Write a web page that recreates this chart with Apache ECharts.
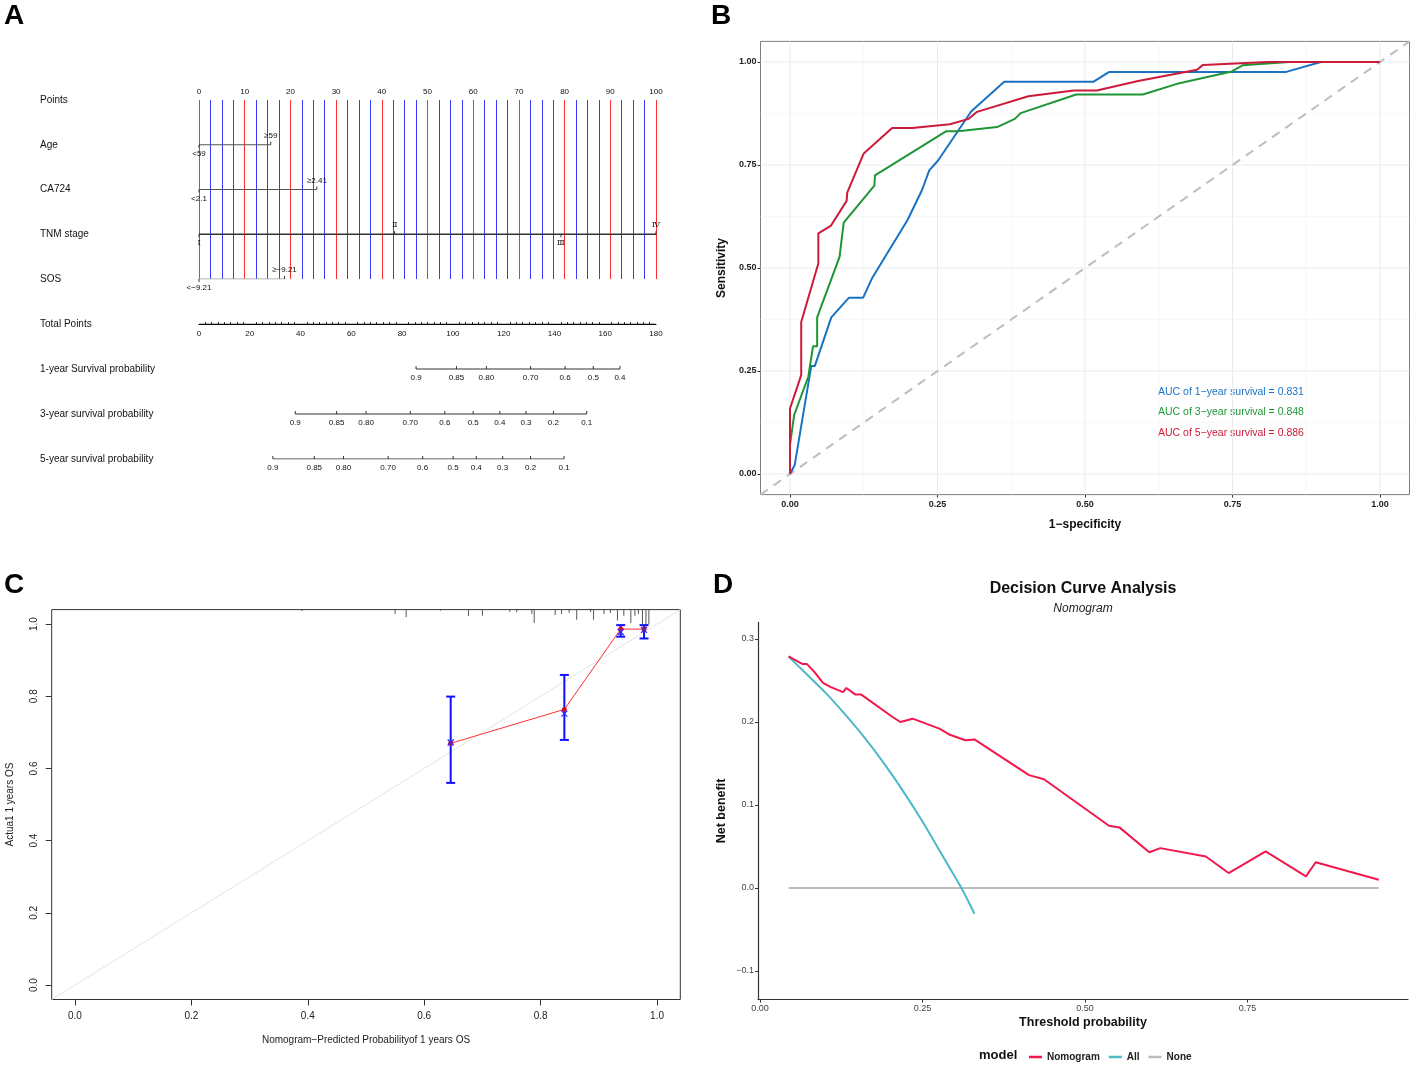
<!DOCTYPE html>
<html>
<head>
<meta charset="utf-8">
<script src="https://cdn.jsdelivr.net/npm/echarts@6/dist/echarts.min.js"></script>
<style>
  html, body { margin: 0; padding: 0; background: #fff; }
  #chart { width: 1417px; height: 1068px; }
</style>
</head>
<body>
<div id="chart"></div>
<script>
// ---- A: nomogram ----
const nomoRows = ['Points', 'Age', 'CA724', 'TNM stage', 'SOS'];
const probRows = ['Total Points', '1-year Survival probability', '3-year survival probability', '5-year survival probability'];
const ageAt = [0, 15.7];
const ageText = ['<59', '≥59'];
const ca724At = [0, 25.8];
const ca724Text = ['<2.1', '≥2.41'];
const tnmAt = [0, 42.8, 79.2, 100];
const tnmText = ['Ⅰ', 'Ⅱ', 'Ⅲ', 'Ⅳ'];
const sosAt = [0, 18.7];
const sosText = ['<−9.21', '≥−9.21'];
const totalRange = [0, 180];
// positions on the Total Points scale
const surv1At = [85.5, 101.4, 113.2, 130.6, 144.2, 155.3, 165.8];
const surv1Text = ['0.9', '0.85', '0.80', '0.70', '0.6', '0.5', '0.4'];
const surv3At = [37.9, 54.2, 65.8, 83.2, 96.8, 108.0, 118.5, 128.8, 139.6, 152.7];
const surv3Text = ['0.9', '0.85', '0.80', '0.70', '0.6', '0.5', '0.4', '0.3', '0.2', '0.1'];
const surv5At = [29.1, 45.4, 56.9, 74.5, 88.1, 100.1, 109.2, 119.6, 130.6, 143.8];
const surv5Text = ['0.9', '0.85', '0.80', '0.70', '0.6', '0.5', '0.4', '0.3', '0.2', '0.1'];

// ---- B: ROC ----
const rocTicks = [0, 0.25, 0.5, 0.75, 1];
const rocMinor = [0.125, 0.375, 0.625, 0.875];
const roc1 = [[0, 0], [0.008, 0.022], [0.036, 0.262], [0.042, 0.262], [0.07, 0.38], [0.10, 0.428], [0.124, 0.428],
  [0.139, 0.475], [0.199, 0.616], [0.224, 0.690], [0.236, 0.737], [0.251, 0.761], [0.307, 0.880], [0.363, 0.952],
  [0.514, 0.952], [0.541, 0.976], [0.841, 0.976], [0.90, 1.0], [1, 1]];
const roc3 = [[0, 0], [0, 0.07], [0.007, 0.143], [0.031, 0.236], [0.039, 0.31], [0.046, 0.31], [0.046, 0.38],
  [0.084, 0.527], [0.091, 0.61], [0.143, 0.70], [0.144, 0.725], [0.265, 0.832], [0.285, 0.832], [0.351, 0.842],
  [0.381, 0.862], [0.391, 0.876], [0.485, 0.921], [0.598, 0.921], [0.656, 0.947], [0.749, 0.977], [0.767, 0.992],
  [0.846, 1.0], [1, 1]];
const roc5 = [[0, 0], [0, 0.159], [0.019, 0.240], [0.019, 0.369], [0.048, 0.511], [0.048, 0.584], [0.069, 0.602],
  [0.096, 0.663], [0.097, 0.683], [0.125, 0.778], [0.173, 0.84], [0.207, 0.84], [0.271, 0.849], [0.303, 0.862],
  [0.317, 0.879], [0.404, 0.917], [0.481, 0.931], [0.52, 0.931], [0.59, 0.954], [0.69, 0.981], [0.70, 0.993],
  [0.81, 1.0], [1, 1]];
const aucText = ['AUC of 1−year survival = 0.831', 'AUC of 3−year survival = 0.848', 'AUC of 5−year survival = 0.886'];

// ---- C: calibration ----
const calTicks = [0, 0.2, 0.4, 0.6, 0.8, 1.0];
const calPred = [0.6455, 0.8408, 0.9376, 0.9777];
const calObs = [0.6695, 0.7636, 0.986, 0.986];
const calKm = [0.672, 0.752, 0.978, 0.984];
const calLow = [0.560, 0.679, 0.965, 0.960];
const calHigh = [0.799, 0.859, 0.997, 0.997];
const rugAt = [0.39, 0.55, 0.569, 0.628, 0.676, 0.700, 0.747, 0.759, 0.785, 0.789, 0.825, 0.836, 0.849, 0.862,
  0.886, 0.891, 0.909, 0.920, 0.932, 0.943, 0.955, 0.962, 0.968, 0.975, 0.981, 0.986];
const rugLen = [0.004, 0.012, 0.021, 0.003, 0.018, 0.017, 0.006, 0.007, 0.012, 0.037, 0.015, 0.012, 0.009, 0.028,
  0.007, 0.028, 0.012, 0.009, 0.030, 0.017, 0.037, 0.017, 0.012, 0.040, 0.049, 0.040];

// ---- D: decision curve ----
const dcaXTicks = [0, 0.25, 0.5, 0.75];
const dcaYTicks = [-0.1, 0, 0.1, 0.2, 0.3];
const dcaThr = [0.044, 0.065, 0.072, 0.083, 0.097, 0.109, 0.128, 0.133, 0.147, 0.156, 0.204, 0.216, 0.235, 0.276,
  0.291, 0.316, 0.330, 0.414, 0.437, 0.537, 0.553, 0.599, 0.616, 0.686, 0.721, 0.778, 0.840, 0.855, 0.952];
const dcaNomo = [0.279, 0.270, 0.270, 0.261, 0.247, 0.242, 0.236, 0.241, 0.233, 0.233, 0.206, 0.200, 0.204, 0.192,
  0.185, 0.178, 0.179, 0.136, 0.131, 0.075, 0.073, 0.043, 0.048, 0.038, 0.018, 0.044, 0.014, 0.031, 0.010];
const allThr = [0.044, 0.07, 0.10, 0.13, 0.16, 0.19, 0.22, 0.25, 0.28, 0.31, 0.33];
const allNB = [0.279, 0.259, 0.236, 0.210, 0.182, 0.151, 0.117, 0.080, 0.040, 0.000, -0.031];
const noneThr = [0.044, 0.952];
const noneNB = [0, 0];

const sans = '"Liberation Sans", Arial, Helvetica, sans-serif';
const narrow = '"Liberation Sans Narrow", "Liberation Sans", Arial, sans-serif';

const zip = (xs, ys) => xs.map((x, i) => [x, ys[i]]);

function rowLine(g, row, at, color, width) {
  return {
    type: 'line', xAxisIndex: g, yAxisIndex: g, silent: true, z: 3, symbol: 'none',
    data: [[at[0], row], [at[at.length - 1], row]],
    lineStyle: { color: color, width: width }
  };
}

// ticks + labels along a nomogram row; labelUp(i) tells on which side each label sits
function rowTicks(g, row, at, text, labelUp, tickFollowsLabel, font) {
  return {
    type: 'custom', xAxisIndex: g, yAxisIndex: g, silent: true, z: 4,
    data: at.map(x => [x, row]),
    renderItem(params, api) {
      const p = api.coord([api.value(0), api.value(1)]);
      const up = labelUp(params.dataIndex);
      const tdir = tickFollowsLabel ? (up ? -1 : 1) : -1;
      const ldir = up ? -1 : 1;
      return {
        type: 'group', children: [
          { type: 'line', shape: { x1: p[0], y1: p[1], x2: p[0], y2: p[1] + tdir * 3 }, style: { stroke: '#333', lineWidth: 1 } },
          { type: 'text', style: { text: text[params.dataIndex], x: p[0], y: p[1] + ldir * 5, align: 'center',
            verticalAlign: up ? 'bottom' : 'top', font: font || ('8px ' + sans), fill: '#111' } }
        ]
      };
    }
  };
}

function gridLines(g, values, vertical, color, width) {
  return {
    type: 'custom', xAxisIndex: g, yAxisIndex: g, silent: true, z: 1,
    data: values.map(v => vertical ? [v, 0] : [0, v]),
    renderItem(params, api) {
      const cs = params.coordSys;
      if (vertical) {
        const x = api.coord([api.value(0), 0])[0];
        return { type: 'line', shape: { x1: x, y1: cs.y, x2: x, y2: cs.y + cs.height }, style: { stroke: color, lineWidth: width } };
      }
      const y = api.coord([0, api.value(1)])[1];
      return { type: 'line', shape: { x1: cs.x, y1: y, x2: cs.x + cs.width, y2: y }, style: { stroke: color, lineWidth: width } };
    }
  };
}

const alt = i => i % 2 === 1;
const below = () => false;

const chart = echarts.init(document.getElementById('chart'));

const option = {
  animation: false,
  backgroundColor: '#fff',
  grid: [
    { left: 199, top: 100, width: 457, height: 179 },
    { left: 199, top: 324, width: 457, height: 135 },
    { left: 760.5, top: 41.4, width: 649, height: 453.2, show: true, borderColor: '#7f7f7f', borderWidth: 1 },
    { left: 51.7, top: 609.6, width: 628.6, height: 389.9, show: true, borderColor: '#333', borderWidth: 1 },
    { left: 758, top: 622.4, width: 650, height: 377.2 }
  ],
  xAxis: [
    { gridIndex: 0, type: 'value', position: 'top', min: 0, max: 100, interval: 10,
      axisLine: { onZero: false, lineStyle: { color: '#000', width: 1 } },
      axisTick: { length: 3, lineStyle: { color: '#000' } },
      minorTick: { show: false, splitNumber: 4 },
      axisLabel: { fontSize: 8, fontFamily: sans, color: '#111', margin: 4 },
      splitLine: { show: true, lineStyle: { color: '#ff3030', width: 1 } },
      minorSplitLine: { show: true, lineStyle: { color: '#3c3cff', width: 1 } } },
    { gridIndex: 1, type: 'value', position: 'top', min: 0, max: 180, interval: 20,
      axisLine: { show: true, onZero: false, lineStyle: { color: '#000', width: 1 } },
      axisTick: { length: 3, lineStyle: { color: '#000' } },
      minorTick: { show: true, splitNumber: 8, length: 2, lineStyle: { color: '#333' } },
      axisLabel: { inside: true, fontSize: 8, fontFamily: sans, color: '#111', margin: 6 },
      splitLine: { show: false } },
    { gridIndex: 2, type: 'value', min: -0.05, max: 1.05,
      axisLine: { show: false, onZero: false },
      axisTick: { show: true, customValues: rocTicks, length: 3, lineStyle: { color: '#333' } },
      axisLabel: { customValues: rocTicks, formatter: v => v.toFixed(2), fontFamily: narrow, fontWeight: 'bold',
        fontSize: 9, color: '#222', margin: 5 },
      splitLine: { show: false },
      name: '1−specificity', nameLocation: 'middle', nameGap: 24,
      nameTextStyle: { fontFamily: sans, fontWeight: 'bold', fontSize: 12, color: '#111' } },
    { gridIndex: 3, type: 'value', min: -0.04, max: 1.04,
      axisLine: { show: false, onZero: false },
      axisTick: { show: true, customValues: calTicks, length: 6, lineStyle: { color: '#333' } },
      axisLabel: { customValues: calTicks, formatter: v => v.toFixed(1), fontFamily: sans, fontSize: 10,
        color: '#222', margin: 12 },
      splitLine: { show: false },
      name: 'Nomogram−Predicted Probabilityof 1 years OS', nameLocation: 'middle', nameGap: 36,
      nameTextStyle: { fontFamily: sans, fontSize: 10, color: '#222' } },
    { gridIndex: 4, type: 'value', min: -0.003, max: 0.997,
      axisLine: { show: true, onZero: false, lineStyle: { color: '#333', width: 1.2 } },
      axisTick: { show: true, customValues: dcaXTicks, length: 3, lineStyle: { color: '#333' } },
      axisLabel: { customValues: dcaXTicks, formatter: v => v.toFixed(2), fontFamily: narrow, fontSize: 9,
        color: '#444', margin: 4 },
      splitLine: { show: false },
      name: 'Threshold probability', nameLocation: 'middle', nameGap: 16,
      nameTextStyle: { fontFamily: sans, fontWeight: 'bold', fontSize: 12.5, color: '#111' } }
  ],
  yAxis: [
    { gridIndex: 0, type: 'category', data: nomoRows, inverse: true, boundaryGap: false,
      axisLine: { show: false }, axisTick: { show: false }, splitLine: { show: false },
      axisLabel: { align: 'left', margin: 159, fontSize: 10, fontFamily: sans, color: '#111' } },
    { gridIndex: 1, type: 'category', data: probRows, inverse: true, boundaryGap: false,
      axisLine: { show: false }, axisTick: { show: false }, splitLine: { show: false },
      axisLabel: { align: 'left', margin: 159, fontSize: 10, fontFamily: sans, color: '#111' } },
    { gridIndex: 2, type: 'value', min: -0.05, max: 1.05,
      axisLine: { show: false, onZero: false },
      axisTick: { show: true, customValues: rocTicks, length: 3, lineStyle: { color: '#333' } },
      axisLabel: { customValues: rocTicks, formatter: v => v.toFixed(2), fontFamily: narrow, fontWeight: 'bold',
        fontSize: 9, color: '#222', margin: 4 },
      splitLine: { show: false },
      name: 'Sensitivity', nameLocation: 'middle', nameGap: 33,
      nameTextStyle: { fontFamily: sans, fontWeight: 'bold', fontSize: 12, color: '#111' } },
    { gridIndex: 3, type: 'value', min: -0.04, max: 1.04,
      axisLine: { show: false, onZero: false },
      axisTick: { show: true, customValues: calTicks, length: 6, lineStyle: { color: '#333' } },
      axisLabel: { customValues: calTicks, formatter: v => v.toFixed(1), rotate: 90, fontFamily: sans, fontSize: 10,
        color: '#222', margin: 12 },
      splitLine: { show: false },
      name: 'Actua1 1 years OS', nameLocation: 'middle', nameGap: 36,
      nameTextStyle: { fontFamily: sans, fontSize: 10, color: '#222' } },
    { gridIndex: 4, type: 'value', min: -0.1345, max: 0.32,
      axisLine: { show: true, onZero: false, lineStyle: { color: '#333', width: 1.2 } },
      axisTick: { show: true, customValues: dcaYTicks, length: 3, lineStyle: { color: '#333' } },
      axisLabel: { customValues: dcaYTicks, formatter: v => (v < 0 ? '−' : '') + Math.abs(v).toFixed(1),
        fontFamily: narrow, fontSize: 9, color: '#444', margin: 4 },
      splitLine: { show: false },
      name: 'Net benefit', nameLocation: 'middle', nameGap: 30,
      nameTextStyle: { fontFamily: sans, fontWeight: 'bold', fontSize: 12.5, color: '#111' } }
  ],
  legend: {
    data: [{ name: 'Nomogram', icon: 'rect' }, { name: 'All', icon: 'rect' }, { name: 'None', icon: 'rect' }],
    left: 1024, top: 1047, itemWidth: 13, itemHeight: 2.5, itemGap: 9,
    textStyle: { fontFamily: sans, fontWeight: 'bold', fontSize: 10, color: '#222' }
  },
  graphic: [
    { type: 'text', left: 4, top: 2, style: { text: 'A', font: 'bold 28px ' + sans, fill: '#000' } },
    { type: 'text', left: 711, top: 2, style: { text: 'B', font: 'bold 28px ' + sans, fill: '#000' } },
    { type: 'text', left: 4, top: 571, style: { text: 'C', font: 'bold 28px ' + sans, fill: '#000' } },
    { type: 'text', left: 713, top: 571, style: { text: 'D', font: 'bold 28px ' + sans, fill: '#000' } },
    { type: 'text', x: 1083, y: 589, style: { text: 'Decision Curve Analysis', font: 'bold 16px ' + sans, fill: '#111',
      align: 'center', verticalAlign: 'middle' } },
    { type: 'text', x: 1083, y: 609, style: { text: 'Nomogram', font: 'italic 12px ' + sans, fill: '#222',
      align: 'center', verticalAlign: 'middle' } },
    { type: 'text', x: 979, y: 1055, style: { text: 'model', font: 'bold 13px ' + sans, fill: '#111',
      align: 'left', verticalAlign: 'middle' } },
    { type: 'text', x: 1158, y: 392, style: { text: aucText[0], font: '10.5px ' + sans, fill: '#1a72c2', verticalAlign: 'middle' } },
    { type: 'text', x: 1158, y: 412, style: { text: aucText[1], font: '10.5px ' + sans, fill: '#1f9636', verticalAlign: 'middle' } },
    { type: 'text', x: 1158, y: 433, style: { text: aucText[2], font: '10.5px ' + sans, fill: '#cc1a3a', verticalAlign: 'middle' } }
  ],
  series: [
    // A
    rowLine(0, 1, ageAt, '#555', 1),
    rowTicks(0, 1, ageAt, ageText, alt, true),
    rowLine(0, 2, ca724At, '#555', 1),
    rowTicks(0, 2, ca724At, ca724Text, alt, true),
    rowLine(0, 3, tnmAt, '#333', 1.5),
    rowTicks(0, 3, tnmAt, tnmText, alt, true, '8px "DejaVu Serif", serif'),
    rowLine(0, 4, sosAt, '#999', 1),
    rowTicks(0, 4, sosAt, sosText, alt, true),
    rowLine(1, 0, totalRange, '#111', 1),
    rowLine(1, 1, surv1At, '#333', 1),
    rowTicks(1, 1, surv1At, surv1Text, below, false),
    rowLine(1, 2, surv3At, '#333', 1),
    rowTicks(1, 2, surv3At, surv3Text, below, false),
    rowLine(1, 3, surv5At, '#333', 1),
    rowTicks(1, 3, surv5At, surv5Text, below, false),
    // B
    gridLines(2, rocMinor, true, '#f4f4f4', 0.6),
    gridLines(2, rocMinor, false, '#f4f4f4', 0.6),
    gridLines(2, rocTicks, true, '#ebebeb', 1),
    gridLines(2, rocTicks, false, '#ebebeb', 1),
    { type: 'line', xAxisIndex: 2, yAxisIndex: 2, silent: true, z: 2, symbol: 'none',
      data: [[-0.05, -0.05], [1.05, 1.05]], lineStyle: { color: '#bdbdbd', width: 2, type: [9, 7] } },
    { type: 'line', name: 'roc1', xAxisIndex: 2, yAxisIndex: 2, z: 3, symbol: 'none', data: roc1,
      lineStyle: { color: '#1a72c2', width: 2 } },
    { type: 'line', name: 'roc3', xAxisIndex: 2, yAxisIndex: 2, z: 3, symbol: 'none', data: roc3,
      lineStyle: { color: '#1f9636', width: 2 } },
    { type: 'line', name: 'roc5', xAxisIndex: 2, yAxisIndex: 2, z: 4, symbol: 'none', data: roc5,
      lineStyle: { color: '#cc1a3a', width: 2 } },
    // C
    { type: 'line', xAxisIndex: 3, yAxisIndex: 3, silent: true, z: 1, symbol: 'none',
      data: [[-0.04, -0.04], [1.04, 1.04]], lineStyle: { color: '#e4e4e4', width: 1 } },
    { type: 'custom', xAxisIndex: 3, yAxisIndex: 3, silent: true, z: 2,
      data: rugAt.map((x, i) => [x, 1.04, rugLen[i]]),
      renderItem(params, api) {
        const a = api.coord([api.value(0), api.value(1)]);
        const b = api.coord([api.value(0), api.value(1) - api.value(2)]);
        return { type: 'line', shape: { x1: a[0], y1: a[1], x2: b[0], y2: b[1] }, style: { stroke: '#555', lineWidth: 1 } };
      } },
    { type: 'custom', xAxisIndex: 3, yAxisIndex: 3, silent: true, z: 3,
      data: calPred.map((x, i) => [x, calLow[i], calHigh[i]]),
      renderItem(params, api) {
        const lo = api.coord([api.value(0), api.value(1)]);
        const hi = api.coord([api.value(0), api.value(2)]);
        const st = { stroke: '#1010ff', lineWidth: 2 };
        return { type: 'group', children: [
          { type: 'line', shape: { x1: lo[0], y1: lo[1], x2: hi[0], y2: hi[1] }, style: st },
          { type: 'line', shape: { x1: lo[0] - 4.5, y1: lo[1], x2: lo[0] + 4.5, y2: lo[1] }, style: st },
          { type: 'line', shape: { x1: hi[0] - 4.5, y1: hi[1], x2: hi[0] + 4.5, y2: hi[1] }, style: st }
        ] };
      } },
    { type: 'line', xAxisIndex: 3, yAxisIndex: 3, z: 4, data: zip(calPred, calObs),
      symbol: 'circle', symbolSize: 5, lineStyle: { color: '#ff3030', width: 1 }, itemStyle: { color: '#d0102a' } },
    { type: 'custom', xAxisIndex: 3, yAxisIndex: 3, silent: true, z: 5,
      data: zip(calPred, calKm),
      renderItem(params, api) {
        const p = api.coord([api.value(0), api.value(1)]);
        const st = { stroke: '#2a2aff', lineWidth: 1.2 };
        return { type: 'group', children: [
          { type: 'line', shape: { x1: p[0] - 3, y1: p[1] - 3, x2: p[0] + 3, y2: p[1] + 3 }, style: st },
          { type: 'line', shape: { x1: p[0] - 3, y1: p[1] + 3, x2: p[0] + 3, y2: p[1] - 3 }, style: st }
        ] };
      } },
    // D
    { type: 'line', name: 'None', xAxisIndex: 4, yAxisIndex: 4, z: 2, symbol: 'none', data: zip(noneThr, noneNB),
      lineStyle: { color: '#bdbdbd', width: 2 }, itemStyle: { color: '#bdbdbd' } },
    { type: 'line', name: 'All', xAxisIndex: 4, yAxisIndex: 4, z: 3, symbol: 'none', smooth: 0.3, data: zip(allThr, allNB),
      lineStyle: { color: '#4db8c6', width: 2 }, itemStyle: { color: '#4db8c6' } },
    { type: 'line', name: 'Nomogram', xAxisIndex: 4, yAxisIndex: 4, z: 4, symbol: 'none', data: zip(dcaThr, dcaNomo),
      lineStyle: { color: '#f2174d', width: 2 }, itemStyle: { color: '#f2174d' } }
  ]
};

chart.setOption(option);
</script>
</body>
</html>
